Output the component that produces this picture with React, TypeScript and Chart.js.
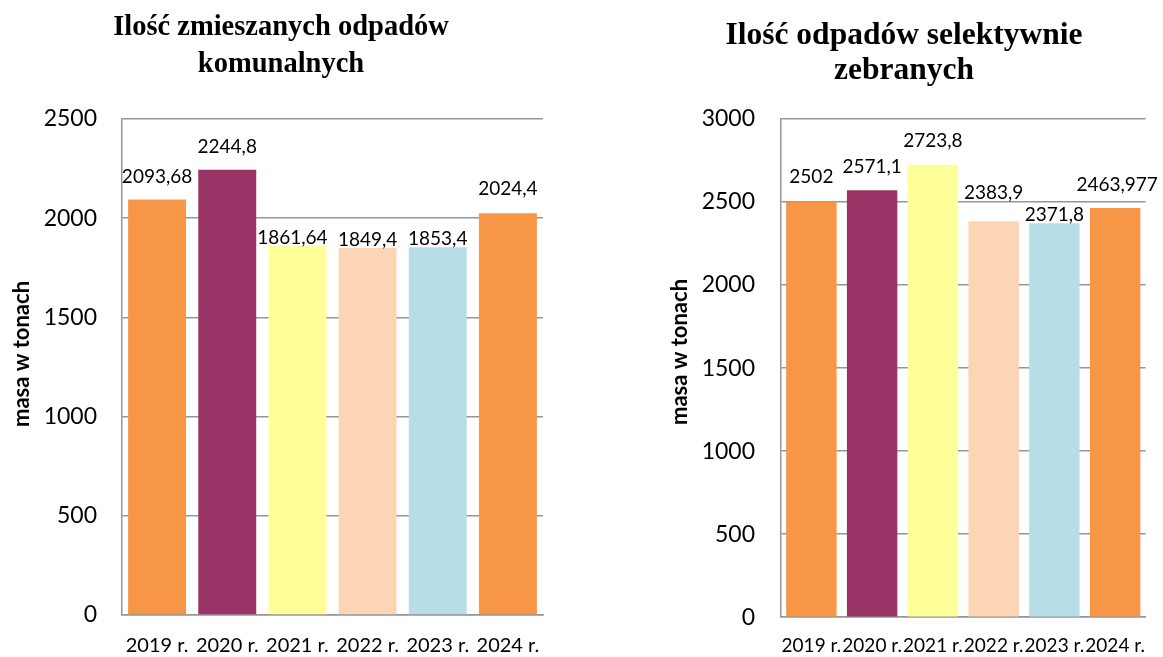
import React, { useEffect, useRef } from 'react';
import { Chart, registerables } from 'chart.js';

Chart.register(...registerables);

const categories = ['2019 r.', '2020 r.', '2021 r.', '2022 r.', '2023 r.', '2024 r.'];
const mixedWaste = [2093.68, 2244.8, 1861.64, 1849.4, 1853.4, 2024.4];
const selectiveWaste = [2502, 2571.1, 2723.8, 2383.9, 2371.8, 2463.977];
const barColors = ['#F79646', '#993366', '#FFFF99', '#FCD5B5', '#B7DEE8', '#F79646'];
const leftTitle = ['Ilość zmieszanych odpadów', 'komunalnych'];
const rightTitle = ['Ilość odpadów selektywnie', 'zebranych'];
const yAxisTitle = 'masa w tonach';
const leftTicks = { max: 2500, step: 500 };
const rightTicks = { max: 3000, step: 500 };

const GRID = '#969696';

const valueLabelPlugin = {
  id: 'valueLabels',
  afterDatasetsDraw(chart: any, _args: any, opts: any) {
    const ctx = chart.ctx;
    const meta = chart.getDatasetMeta(0);
    const data = chart.data.datasets[0].data;
    ctx.save();
    ctx.font = `${opts.fontSize}px Lato`;
    ctx.fillStyle = '#000';
    ctx.textAlign = 'center';
    ctx.textBaseline = 'alphabetic';
    meta.data.forEach((bar: any, i: number) => {
      const txt = String(data[i]).replace('.', ',');
      ctx.fillText(txt, bar.x + (opts.dx[i] || 0), bar.y - opts.gaps[i]);
    });
    ctx.translate(opts.yTitleX, opts.yTitleY);
    ctx.rotate(-Math.PI / 2);
    ctx.font = `bold ${opts.yTitleSize}px Lato`;
    ctx.textBaseline = 'middle';
    ctx.fillText(yAxisTitle, 0, 0);
    ctx.restore();
  },
};

type Cfg = {
  values: number[];
  title: string[];
  ticks: { max: number; step: number };
  width: number;
  height: number;
  padX: number;
  titleSize: number;
  titleLineHeight: number;
  titlePadTop: number;
  titlePadBottom: number;
  yWidth: number;
  yTickPad: number;
  xHeight: number;
  xTickPad: number;
  xFont: number;
  barPct: number;
  gaps: number[];
  dx: number[];
  yTitleX: number;
  yTitleY: number;
};

function BarChart({ cfg, left }: { cfg: Cfg; left: number }) {
  const ref = useRef<HTMLCanvasElement>(null);
  useEffect(() => {
    if (!ref.current) return;
    const chart = new Chart(ref.current, {
      type: 'bar',
      data: {
        labels: categories,
        datasets: [
          {
            data: cfg.values,
            backgroundColor: barColors,
            borderWidth: 0,
            categoryPercentage: 1,
            barPercentage: cfg.barPct,
          },
        ],
      },
      options: {
        responsive: false,
        animation: false,
        layout: { padding: { left: cfg.padX, right: cfg.padX, top: 0, bottom: 0 } },
        plugins: {
          legend: { display: false },
          tooltip: { enabled: false },
          title: {
            display: true,
            text: cfg.title,
            color: '#000',
            font: {
              family: 'Liberation Serif',
              size: cfg.titleSize,
              weight: 'bold',
              lineHeight: cfg.titleLineHeight / cfg.titleSize,
            },
            padding: { top: cfg.titlePadTop, bottom: cfg.titlePadBottom },
          },
          valueLabels: {
            fontSize: 19,
            gaps: cfg.gaps,
            dx: cfg.dx,
            yTitleX: cfg.yTitleX,
            yTitleY: cfg.yTitleY,
            yTitleSize: 22,
          },
        } as any,
        scales: {
          x: {
            grid: { display: false, drawTicks: false },
            border: { display: true, color: GRID, width: 1.5 },
            ticks: {
              color: '#000',
              font: { family: 'Lato', size: cfg.xFont },
              padding: cfg.xTickPad,
              maxRotation: 0,
              autoSkip: false,
            },
            afterFit: (s: any) => {
              s.height = cfg.xHeight;
            },
          },
          y: {
            min: 0,
            max: cfg.ticks.max,
            grid: { color: GRID, lineWidth: 1.5, drawTicks: false },
            border: { display: true, color: GRID, width: 1.5 },
            ticks: {
              stepSize: cfg.ticks.step,
              color: '#000',
              font: { family: 'Lato', size: 23 },
              padding: cfg.yTickPad,
              callback: (v: any) => String(v),
            },
            afterFit: (s: any) => {
              s.width = cfg.yWidth;
            },
          },
        },
      },
      plugins: [valueLabelPlugin],
    });
    return () => chart.destroy();
  }, [cfg]);
  return (
    <canvas
      ref={ref}
      width={cfg.width}
      height={cfg.height}
      style={{ position: 'absolute', left, top: 0, width: cfg.width, height: cfg.height }}
    />
  );
}

const leftCfg: Cfg = {
  values: mixedWaste,
  title: leftTitle,
  ticks: leftTicks,
  width: 562,
  height: 657,
  padX: 19,
  titleSize: 28.5,
  titleLineHeight: 37,
  titlePadTop: 9,
  titlePadBottom: 36,
  yWidth: 103,
  yTickPad: 25,
  xHeight: 42,
  xTickPad: 19,
  xFont: 20,
  barPct: 0.826,
  gaps: [17, 17, 2, 2, 2, 18],
  dx: [0, 0, -5, 0, 0, 0],
  yTitleX: 22,
  yTitleY: 354,
};

const rightCfg: Cfg = {
  values: selectiveWaste,
  title: rightTitle,
  ticks: rightTicks,
  width: 518,
  height: 657,
  padX: 13,
  titleSize: 31.5,
  titleLineHeight: 35,
  titlePadTop: 18,
  titlePadBottom: 31,
  yWidth: 123,
  yTickPad: 26,
  xHeight: 37,
  xTickPad: 17,
  xFont: 19,
  barPct: 0.83,
  gaps: [19, 17, 18, 22, 2, 17],
  dx: [0, 0, 0, 0, 0, 2],
  yTitleX: 35,
  yTitleY: 352,
};

export default function App() {
  return (
    <div
      style={{
        position: 'fixed',
        left: 0,
        top: 0,
        width: 1163,
        height: 657,
        background: '#fff',
        overflow: 'hidden',
      }}
    >
      <BarChart cfg={leftCfg} left={0} />
      <BarChart cfg={rightCfg} left={645} />
    </div>
  );
}
